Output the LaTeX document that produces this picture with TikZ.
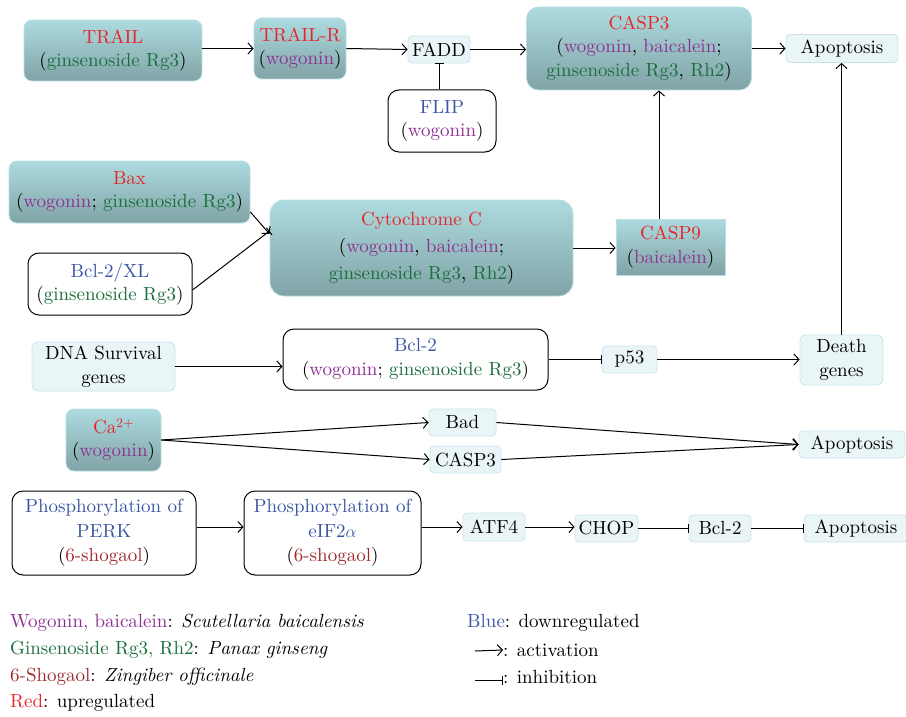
\documentclass[tikz,border=0pt]{standalone}
\usepackage{fontspec}
\setmainfont{lmroman10-regular}[Extension=.otf, ItalicFont=lmroman10-italic, BoldFont=lmroman10-bold, BoldItalicFont=lmroman10-bolditalic]
\usetikzlibrary{arrows.meta,calc}
\definecolor{cred}{HTML}{E8242A}
\definecolor{cpur}{HTML}{8E3092}
\definecolor{cgrn}{HTML}{1B6E3C}
\definecolor{cdred}{HTML}{9E2A2B}
\definecolor{cblue}{HTML}{3A55A4}
\definecolor{tealtop}{HTML}{ADDBDF}
\definecolor{tealbot}{HTML}{80A3A6}
\definecolor{tealedge}{HTML}{B8DFE3}
\definecolor{palefill}{HTML}{EAF5F8}
\definecolor{paleedge}{HTML}{CBE4EA}
\newcommand{\Rd}[1]{{\color{cred}#1}}
\newcommand{\Pu}[1]{{\color{cpur}#1}}
\newcommand{\Gr}[1]{{\color{cgrn}#1}}
\newcommand{\Dr}[1]{{\color{cdred}#1}}
\newcommand{\Bl}[1]{{\color{cblue}#1}}
\tikzset{
  tealbox/.style={rounded corners=8pt, top color=tealtop, bottom color=tealbot, draw=tealedge, line width=0.8pt, align=center, inner sep=0pt},
  palebox/.style={rounded corners=4pt, fill=palefill, draw=paleedge, line width=0.8pt, align=center, inner sep=0pt},
  wbox/.style={rounded corners=11pt, fill=white, draw=black, line width=1pt, align=center, inner sep=0pt},
  act/.style={line width=1pt, -{Straight Barb[length=5pt,width=11pt,line width=1pt]}},
  inh/.style={line width=1pt, -{Bar[width=9pt,line width=1pt]}},
  legtext/.style={anchor=west, inner sep=0pt}
}
\begin{document}
\begin{tikzpicture}[x=1pt,y=-1pt,font=\fontsize{19}{23.5}\selectfont]
\useasboundingbox (0,0) rectangle (906,717);
% row 1
\node[tealbox, minimum width=178pt, minimum height=61pt] (trail) at (113,50.5) {\Rd{TRAIL}\\(\Gr{ginsenoside Rg3})};
\node[tealbox, minimum width=92pt, minimum height=61pt] (trailr) at (300,48.5) {\Rd{TRAIL-R}\\(\Pu{wogonin})};
\node[palebox, minimum width=62pt, minimum height=27pt] (fadd) at (439,49.5) {FADD};
\node[wbox, minimum width=108pt, minimum height=62pt] (flip) at (442,121) {\Bl{FLIP}\\(\Pu{wogonin})};
\node[tealbox, rounded corners=12pt, minimum width=225pt, minimum height=83pt] (casp3) at (639,48.5) {\Rd{CASP3}\\(\Pu{wogonin}, \Pu{baicalein};\\\Gr{ginsenoside Rg3}, \Gr{Rh2})};
\node[palebox, minimum width=112pt, minimum height=28pt] (apo1) at (842,48.5) {Apoptosis};
% row 2
\node[tealbox, minimum width=241pt, minimum height=62pt] (bax) at (129.5,192) {\Rd{Bax}\\(\Pu{wogonin}; \Gr{ginsenoside Rg3})};
\node[wbox, minimum width=164pt, minimum height=62pt] (bclxl) at (110,284) {\Bl{Bcl-2/XL}\\(\Gr{ginsenoside Rg3})};
\node[tealbox, rounded corners=14pt, minimum width=303pt, minimum height=96pt, font=\fontsize{19}{27}\selectfont] (cyto) at (421.5,248) {\Rd{Cytochrome C}\\(\Pu{wogonin}, \Pu{baicalein};\\\Gr{ginsenoside Rg3}, \Gr{Rh2})};
\node[tealbox, rounded corners=0pt, minimum width=109pt, minimum height=56pt] (casp9) at (670.5,247) {\Rd{CASP9}\\(\Pu{baicalein})};
% row 3
\node[palebox, rounded corners=6pt, minimum width=143pt, minimum height=49pt] (dna) at (103.5,366.5) {DNA Survival\\genes};
\node[wbox, minimum width=265pt, minimum height=61pt] (bcl2) at (415.5,359.5) {\Bl{Bcl-2}\\(\Pu{wogonin}; \Gr{ginsenoside Rg3})};
\node[palebox, minimum width=55pt, minimum height=27pt] (p53) at (629.5,359.5) {p53};
\node[palebox, rounded corners=6pt, minimum width=83pt, minimum height=50pt] (death) at (841.5,360) {Death\\genes};
% row 4
\node[tealbox, minimum width=95pt, minimum height=62pt] (ca) at (113.5,440) {\Rd{Ca\textsuperscript{2+}}\\(\Pu{wogonin})};
\node[palebox, minimum width=67pt, minimum height=27pt] (bad) at (462.5,422.5) {Bad};
\node[palebox, minimum width=71pt, minimum height=27pt] (casp3b) at (465.5,459.5) {CASP3};
\node[palebox, minimum width=106pt, minimum height=27pt] (apo2) at (852,444.5) {Apoptosis};
% row 5
\node[wbox, minimum width=184pt, minimum height=84pt, font=\fontsize{19}{24.5}\selectfont] (perk) at (104,533) {\Bl{Phosphorylation of}\\\Bl{PERK}\\(\Dr{6-shogaol})};
\node[wbox, minimum width=177pt, minimum height=84pt, font=\fontsize{19}{24.5}\selectfont] (eif) at (332.5,533) {\Bl{Phosphorylation of}\\\Bl{eIF2$\alpha$}\\(\Dr{6-shogaol})};
\node[palebox, minimum width=62pt, minimum height=28pt] (atf4) at (494,527) {ATF4};
\node[palebox, minimum width=63pt, minimum height=27pt] (chop) at (606.5,528.5) {CHOP};
\node[palebox, minimum width=62pt, minimum height=27pt] (bcl2b) at (720,528.5) {Bcl-2};
\node[palebox, minimum width=104pt, minimum height=27pt] (apo3) at (856,528.5) {Apoptosis};
% connectors
\draw[act] (trail.east |- trailr.west) -- (trailr.west);
\draw[act] (trailr.east) -- (fadd.west);
\draw[act] (fadd.east) -- (fadd.east -| casp3.west);
\draw[act] (casp3.east |- apo1.west) -- (apo1.west);
\draw[inh] (fadd.south |- flip.north) -- (fadd.south);
\draw[act] ([xshift=-11.5pt]casp9.north) -- ([xshift=-11.5pt]casp9.north |- casp3.south);
\draw[act] (death.north) -- (death.north |- apo1.south);
\draw[act] ([yshift=-20pt]bax.east) -- ([yshift=14pt]cyto.west);
\draw[inh] ([yshift=-6pt]bclxl.east) -- ([yshift=17pt]cyto.west);
\draw[act] (cyto.east) -- (cyto.east -| casp9.west);
\draw[act] (dna.east) -- (dna.east -| bcl2.west);
\draw[inh] (bcl2.east) -- (p53.west);
\draw[act] (p53.east) -- (p53.east -| death.west);
\draw[act] (ca.east) -- (bad.west);
\draw[act] (ca.east) -- (casp3b.west);
\draw[act] (bad.east) -- (apo2.west);
\draw[act] (casp3b.east) -- (apo2.west);
\draw[act] (perk.east |- atf4.west) -- (eif.west |- atf4.west);
\draw[act] (eif.east |- atf4.west) -- (atf4.west);
\draw[act] (atf4.east) -- (atf4.east -| chop.west);
\draw[inh] (chop.east) -- (bcl2b.west);
\draw[inh] (bcl2b.east) -- (apo3.west);
% legend
\node[legtext] (l1) at (10,623) {\Pu{Wogonin, baicalein}: \textit{Scutellaria baicalensis}};
\node[legtext] (l2) at (10,650) {\Gr{Ginsenoside Rg3, Rh2}: \textit{Panax ginseng}};
\node[legtext] (l3) at (10,677) {\Dr{6-Shogaol}: \textit{Zingiber officinale}};
\node[legtext] (l4) at (10,703) {\Rd{Red}: upregulated};
\node[legtext] (r1) at (467,623) {\Bl{Blue}: downregulated};
\node[legtext] (r2) at (503,650) {: activation};
\node[legtext] (r3) at (503,677) {: inhibition};
\coordinate (a0) at (475,651);
\coordinate (b0) at (475,680);
\draw[act] (a0) -- (r2.west);
\draw[inh] (b0) -- (b0 -| r3.west);
\end{tikzpicture}
\end{document}
